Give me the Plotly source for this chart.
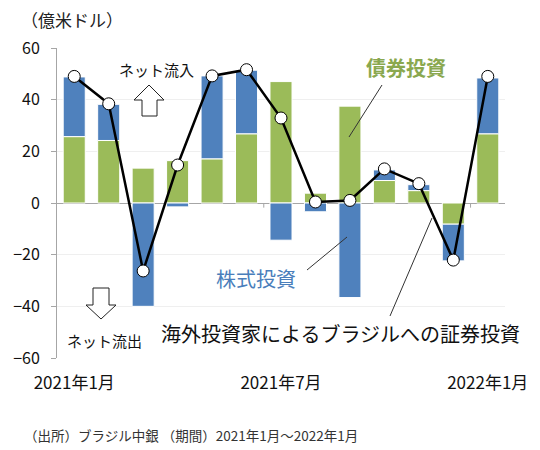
import plotly.graph_objects as go

# 月 (2021年1月〜2022年1月)
months = ["2021年1月", "2021年2月", "2021年3月", "2021年4月", "2021年5月", "2021年6月",
          "2021年7月", "2021年8月", "2021年9月", "2021年10月", "2021年11月", "2021年12月",
          "2022年1月"]
# 債券投資 (億米ドル)
bond = [25.7, 24.2, 13.5, 16.4, 17.1, 26.8, 47.0, 3.8, 37.5, 8.7, 4.8, -8.2, 26.8]
# 株式投資 (億米ドル)
equity = [23.1, 14.0, -40.0, -1.5, 32.1, 24.6, -14.4, -3.4, -36.6, 4.1, 2.3, -14.2, 21.6]
# 証券投資合計 (億米ドル)
total = [49.0, 38.4, -26.3, 14.7, 49.2, 51.6, 32.9, 0.4, 1.0, 13.2, 7.5, -22.1, 49.0]

tick_months = ["2021年1月", "2021年7月", "2022年1月"]
yticks = [60, 40, 20, 0, -20, -40, -60]

FONT = "Noto Sans CJK JP"
GREEN = "#9BBB59"
BLUE = "#4F81BD"

# ページ余白(8px)を差し引いた図の大きさ
OFF = 8
W, H = 540 - OFF, 450 - OFF
L, R, T, B = 57 - OFF, 505 - OFF, 48 - OFF, 358 - OFF

# ページ上のピクセル -> paper座標
def px(x):
    return (x - OFF - L) / (R - L)
def py(y):
    return (B - (y - OFF)) / (B - T)

fig = go.Figure()
fig.add_trace(go.Bar(x=months, y=bond, name="債券投資",
                     marker=dict(color=GREEN, line=dict(color="white", width=1))))
fig.add_trace(go.Bar(x=months, y=equity, name="株式投資",
                     marker=dict(color=BLUE, line=dict(color="white", width=1))))
fig.add_trace(go.Scatter(x=months, y=total, mode="lines+markers", name="合計",
                         line=dict(color="black", width=2.5),
                         marker=dict(size=12, color="white", line=dict(color="black", width=1))))

shapes = []
# 0ラインの目盛り
for xv in [5.5, 11.5]:
    shapes.append(dict(type="line", xref="x", yref="y", x0=xv, x1=xv, y0=0, y1=-1.8,
                       line=dict(color="#A6A6A6", width=1)))

def path(pts):
    return "M " + " L ".join(f"{px(a)},{py(b)}" for a, b in pts) + " Z"

# 矢印
up = [(149, 85), (164, 100), (157, 100), (157, 116), (142, 116), (142, 100), (134, 100)]
down = [(93, 288), (109, 288), (109, 305), (116, 305), (101, 319), (86, 305), (93, 305)]
for pts in [up, down]:
    shapes.append(dict(type="path", xref="paper", yref="paper", path=path(pts),
                       fillcolor="white", line=dict(color="#222222", width=1)))

# 引き出し線
for (x0, y0, x1, y1) in [(307, 270, 347, 237), (382, 85, 349, 137), (390, 316, 432, 218)]:
    shapes.append(dict(type="line", xref="paper", yref="paper",
                       x0=px(x0), y0=py(y0), x1=px(x1), y1=py(y1),
                       line=dict(color="#333333", width=1)))

annos = [
    ("（億米ドル）", 72, 20, 17, "#222222", "center"),
    ("ネット流入", 156, 70, 15, "#111111", "center"),
    ("ネット流出", 104, 340, 15, "#111111", "center"),
    ("<b>債券投資</b>", 406, 67, 20, "#8AA84F", "center"),
    ("株式投資", 256, 278, 20, "#4A7EBB", "center"),
    ("海外投資家によるブラジルへの証券投資", 340, 333, 20, "#111111", "center"),
    ("（出所）ブラジル中銀 （期間）2021年1月～2022年1月", 22, 435, 13.5, "#333333", "left"),
]
annotations = []
for text, x, y, size, color, anchor in annos:
    annotations.append(dict(text=text, xref="paper", yref="paper", x=px(x), y=py(y),
                            xanchor=anchor, yanchor="middle", showarrow=False,
                            font=dict(family=FONT, size=size, color=color)))

fig.update_layout(
    width=W, height=H,
    margin=dict(l=L, r=W - R, t=T, b=H - B, autoexpand=False),
    barmode="relative", bargap=0.36,
    plot_bgcolor="white", paper_bgcolor="white",
    showlegend=False,
    font=dict(family=FONT, size=14, color="#111111"),
    shapes=shapes, annotations=annotations,
)
fig.update_xaxes(tickmode="array", tickvals=tick_months, ticktext=tick_months,
                 showgrid=False, showline=False, ticks="", ticklabelstandoff=13,
                 tickfont=dict(size=17, color="#111111"), automargin=False,
                 range=[-0.5, len(months) - 0.5])
fig.update_yaxes(range=[-60, 60], tickvals=yticks, showgrid=True, gridcolor="#EFEFEF",
                 showline=True, linecolor="#A6A6A6", ticks="outside", ticklen=5,
                 tickcolor="#A6A6A6", ticklabelstandoff=8, automargin=False,
                 zeroline=True, zerolinecolor="#A6A6A6", zerolinewidth=1,
                 tickfont=dict(size=16, color="#111111"))

fig.write_html("out.html")
